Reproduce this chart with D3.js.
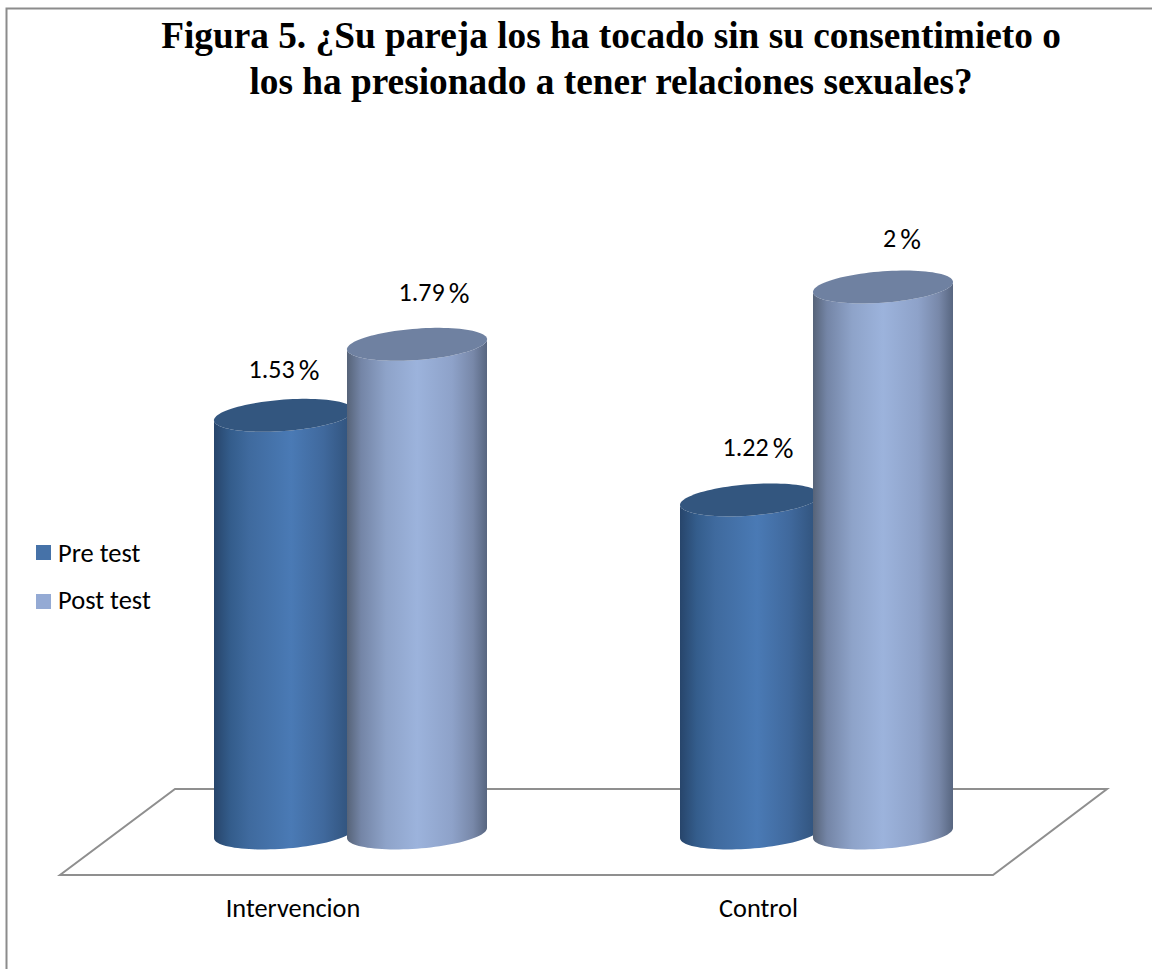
<!DOCTYPE html>
<html><head><meta charset="utf-8">
<style>html,body{margin:0;padding:0;background:#fff}svg{display:block}</style>
<script src="https://cdn.jsdelivr.net/npm/d3@7"></script>
</head><body><svg id="c" width="1152" height="969"></svg>
<script>
const titleLines = ["Figura 5. ¿Su pareja los ha tocado sin su consentimieto o","los ha presionado a tener relaciones sexuales?"];
const categories = ["Intervencion","Control"];
const seriesNames = ["Pre test","Post test"];
const preTest = [1.53,1.22];
const postTest = [1.79,2];
const labelsPre = ["1.53","1.22"];
const labelsPost = ["1.79","2"];

const svg = d3.select("#c");
const bodyFont = "Carlito, Lato, 'Open Sans', sans-serif";
const W = 140, hw = W/2, skew = 5, minor = 15.7;

const x0 = d3.scalePoint().domain(categories).range([350.5,816.5]);
const x1 = d3.scalePoint().domain(seriesNames).range([-66.5,66.5]);
const y = d3.scaleLinear().domain([0,2]).range([833,287]);

const styles = {
  "Pre test": {id:"gPre", top:"#33567f", swatch:"#4672a8",
    stops:[[0,"#27456b"],[.12,"#345d8c"],[.25,"#3f6a9e"],[.55,"#4a7ab5"],[.78,"#40699d"],[1,"#2f5078"]]},
  "Post test": {id:"gPost", top:"#6f81a1", swatch:"#94aad4",
    stops:[[0,"#566378"],[.1,"#7485a6"],[.28,"#8ea3c9"],[.5,"#9cb3dc"],[.75,"#8ea2c9"],[.9,"#7888a9"],[1,"#586680"]]}
};
const defs = svg.append("defs");
seriesNames.forEach(s=>{
  const g = defs.append("linearGradient").attr("id",styles[s].id).attr("x1",0).attr("x2",1).attr("y1",0).attr("y2",0);
  styles[s].stops.forEach(d=>g.append("stop").attr("offset",d[0]).attr("stop-color",d[1]));
});

// frame
svg.append("path").attr("d","M6.5,969 V8.5 H1152").attr("fill","none").attr("stroke","#8c8c8c").attr("stroke-width",2);

// floor
const floorPts = [[60,875],[993,875],[1107,789],[175,789]];
svg.append("path").attr("d",d3.line()(floorPts)+"Z").attr("fill","#fff").attr("stroke","#8f8f8f").attr("stroke-width",2);

// title
svg.append("g").selectAll("text").data(titleLines).join("text")
  .attr("x",611).attr("y",(d,i)=>48+i*46).attr("text-anchor","middle")
  .attr("font-family","'Liberation Serif',serif").attr("font-weight","bold").attr("font-size",37.3).attr("fill","#000")
  .text(d=>d);

// ellipse point on a sheared ellipse
const pt = (cx,cy,t)=>[cx+hw*Math.cos(t), cy-skew*Math.cos(t)+minor*Math.sin(t)];
const arc = (cx,cy,a,b,n=48)=>d3.range(n+1).map(i=>pt(cx,cy,a+(b-a)*i/n));
const line = d3.line();

const data = [];
seriesNames.forEach((s,si)=>{
  categories.forEach((c,ci)=>{
    data.push({s,c,si,ci,v:(si?postTest:preTest)[ci],label:(si?labelsPost:labelsPre)[ci]});
  });
});
const bars = svg.append("g").selectAll("g").data(data).join("g");
bars.append("path")
  .attr("d",d=>{
    const cx=x0(d.c)+x1(d.s), cyB=y(0), cyT=y(d.v);
    return line(arc(cx,cyB,0,Math.PI).concat(arc(cx,cyT,Math.PI,0)))+"Z";
  })
  .attr("fill",d=>`url(#${styles[d.s].id})`);
bars.append("path")
  .attr("d",d=>line(arc(x0(d.c)+x1(d.s),y(d.v),0,2*Math.PI,96))+"Z")
  .attr("fill",d=>styles[d.s].top);

// data labels: manual nudges from the bar top, as in the source chart
const nudgeX = [[0,8],[17,19]];
const nudgeY = [[-37,-44],[-43.5,-40]];
const lab = svg.append("g").selectAll("text").data(data).join("text")
  .attr("x",d=>x0(d.c)+x1(d.s)+nudgeX[d.si][d.ci])
  .attr("y",d=>y(d.v)+nudgeY[d.si][d.ci])
  .attr("text-anchor","middle").attr("font-family",bodyFont).attr("font-size",26).attr("fill","#000");
lab.append("tspan").text(d=>d.label);
lab.append("tspan").attr("dx",4).attr("dy",2).attr("font-size",29).text("%");

// category labels
svg.append("g").selectAll("text").data(categories).join("text")
  .attr("x",d=>d==="Control"?758.5:293).attr("y",916.5).attr("text-anchor","middle")
  .attr("font-family",bodyFont).attr("font-size",26.3).attr("fill","#000").text(d=>d);

// legend
const leg = svg.append("g").selectAll("g").data(seriesNames).join("g")
  .attr("transform",(d,i)=>`translate(36,${545+i*49})`);
leg.append("rect").attr("width",15).attr("height",15).attr("fill",d=>styles[d].swatch);
leg.append("text").attr("x",22).attr("y",(d,i)=>i?14.5:16.5).attr("font-family",bodyFont).attr("font-size",26.5).attr("fill","#000").text(d=>d);
</script></body></html>
